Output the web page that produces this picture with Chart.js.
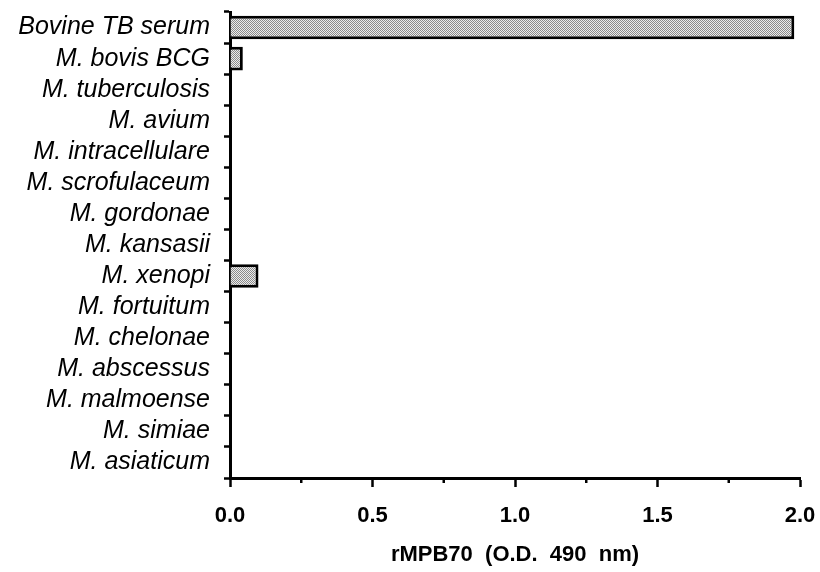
<!DOCTYPE html>
<html>
<head>
<meta charset="utf-8">
<script src="https://cdn.jsdelivr.net/npm/chart.js@4/dist/chart.umd.min.js"></script>
<style>
  html, body { margin: 0; padding: 0; background: #fff; }
  #wrap { width: 820px; height: 572px; }
</style>
</head>
<body>
<div id="wrap"><canvas id="myChart" width="820" height="572"></canvas></div>
<script>
// strains tested and their response (O.D. 490 nm)
const strains = [
  'Bovine TB serum', 'M. bovis BCG', 'M. tuberculosis', 'M. avium',
  'M. intracellulare', 'M. scrofulaceum', 'M. gordonae', 'M. kansasii',
  'M. xenopi', 'M. fortuitum', 'M. chelonae', 'M. abscessus',
  'M. malmoense', 'M. simiae', 'M. asiaticum'
];
const odValues = [1.98, 0.045, 0, 0, 0, 0, 0, 0, 0.10, 0, 0, 0, 0, 0, 0];
const xTicks = [0, 0.5, 1.0, 1.5, 2.0];
const xMinorTicks = [0.25, 0.75, 1.25, 1.75];

// stippled grey fill like a halftone
function makeStipple() {
  const c = document.createElement('canvas');
  c.width = 2; c.height = 2;
  const g = c.getContext('2d');
  g.fillStyle = '#ececec';
  g.fillRect(0, 0, 2, 2);
  g.fillStyle = '#8a8a8a';
  g.fillRect(0, 0, 1, 1);
  g.fillRect(1, 1, 1, 1);
  return g.createPattern(c, 'repeat');
}

// short ticks between the labelled ones
const minorTicks = {
  id: 'minorTicks',
  afterDraw(chart) {
    const ctx = chart.ctx;
    const x = chart.scales.x;
    ctx.save();
    ctx.strokeStyle = '#000';
    ctx.lineWidth = 2.5;
    xMinorTicks.forEach(v => {
      const px = x.getPixelForValue(v);
      ctx.beginPath();
      ctx.moveTo(px, x.top);
      ctx.lineTo(px, x.top + 5);
      ctx.stroke();
    });
    ctx.restore();
  }
};

const ctx = document.getElementById('myChart').getContext('2d');
new Chart(ctx, {
  type: 'bar',
  data: {
    labels: strains,
    datasets: [{
      data: odValues,
      backgroundColor: makeStipple(),
      borderColor: '#000',
      borderWidth: 3,
      borderSkipped: 'start',
      barPercentage: 0.76,
      categoryPercentage: 1.0
    }]
  },
  options: {
    indexAxis: 'y',
    responsive: false,
    animation: false,
    layout: { padding: { top: 12, right: 20, left: 0, bottom: 0 } },
    plugins: { legend: { display: false }, tooltip: { enabled: false } },
    scales: {
      x: {
        min: 0,
        max: 2,
        afterBuildTicks: s => { s.ticks = xTicks.map(v => ({ value: v })); },
        afterFit: s => { s.height = 94; s.paddingLeft = 0; s.paddingRight = 0; },
        border: { color: '#000', width: 3 },
        grid: { drawOnChartArea: false, drawTicks: true, tickLength: 9, tickWidth: 2.5, color: '#000' },
        ticks: {
          color: '#000',
          padding: 16,
          maxRotation: 0,
          font: { family: '"Liberation Sans Narrow", "Liberation Sans", Arial', size: 22, weight: 'bold' },
          callback: v => v.toFixed(1)
        },
        title: {
          display: true,
          text: 'rMPB70  (O.D.  490  nm)',
          color: '#000',
          padding: { top: 4 },
          font: { family: '"Liberation Sans", Arial', size: 22, weight: 'bold' }
        }
      },
      y: {
        afterFit: s => { s.width = 230; s.paddingTop = 0; s.paddingBottom = 0; },
        border: { color: '#000', width: 3 },
        grid: { drawOnChartArea: false, drawTicks: true, tickLength: 6, tickWidth: 2.5, color: '#000', offset: true },
        ticks: {
          color: '#000',
          padding: 14,
          autoSkip: false,
          font: { family: '"Liberation Sans", Arial', size: 25, style: 'italic' }
        }
      }
    }
  },
  plugins: [minorTicks]
});
</script>
</body>
</html>
